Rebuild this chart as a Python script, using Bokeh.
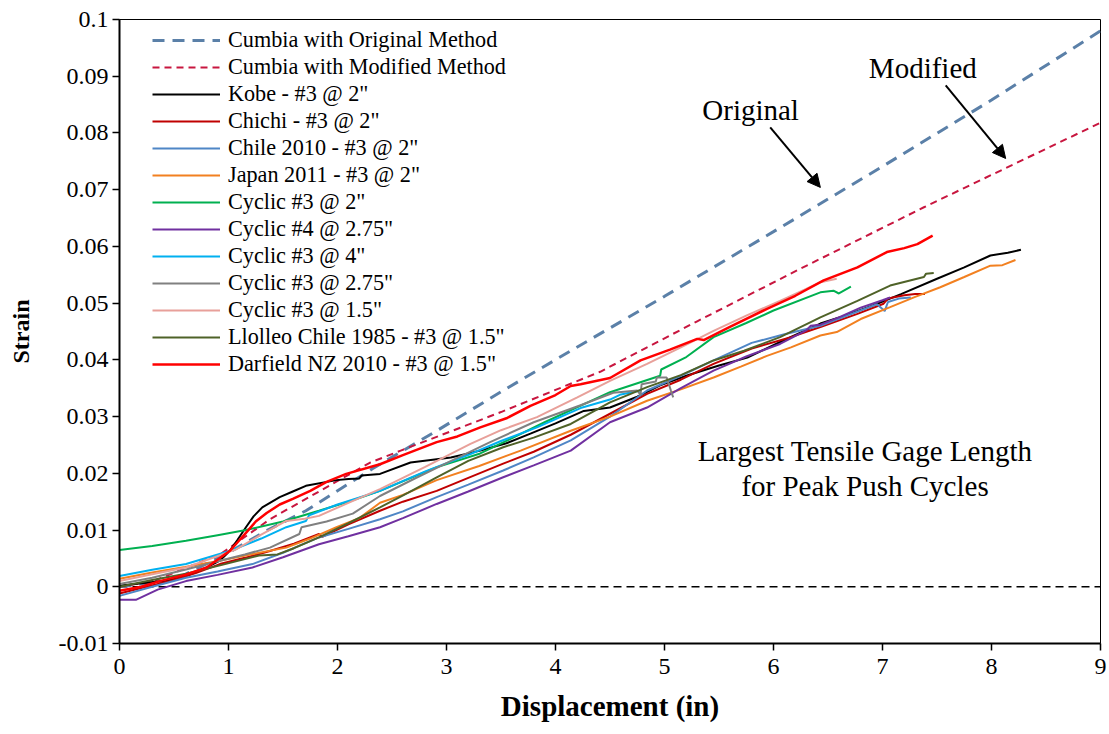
from bokeh.plotting import figure
from bokeh.models import (Range1d, FixedTicker, CustomJSTickFormatter, Legend, LegendItem,
                          Arrow, NormalHead, Label)
from bokeh.embed import file_html
from bokeh.resources import INLINE

# ---------------- data ----------------
x_ticks = [0, 1, 2, 3, 4, 5, 6, 7, 8, 9]
y_ticks = [-0.01, 0.0, 0.01, 0.02, 0.03, 0.04, 0.05, 0.06, 0.07, 0.08, 0.09, 0.1]

zero_x = [0, 9]
zero_y = [0, 0]

orig_x = [0, 0.5, 1.0, 1.35, 1.71, 2.32, 2.91, 3.52, 4.14, 5.0, 6.0, 7.0, 8.0, 9.0]
orig_y = [0, 0.0012, 0.0060, 0.0099, 0.0134, 0.0208, 0.0275, 0.0346, 0.0416, 0.0512, 0.0626, 0.0741, 0.0858, 0.0980]

mod_x = [0, 0.31, 0.93, 1.38, 2.3, 2.58, 3.5, 4.41, 5.3, 6.25, 7.38, 9.0]
mod_y = [0, 0.001, 0.0058, 0.0119, 0.0219, 0.0240, 0.0308, 0.0379, 0.0468, 0.0561, 0.0669, 0.0818]

kobe_x = [0, 0.2, 0.4, 0.6, 0.8, 0.92, 1.01, 1.08, 1.16, 1.23, 1.31, 1.47, 1.59, 1.71, 1.99, 2.1, 2.2,
          2.22, 2.39, 2.67, 3.04, 3.31, 3.55, 3.77, 4.0, 4.26, 4.5, 4.75, 4.96, 5.2, 5.5, 5.76, 6.1,
          6.43, 6.61, 6.9, 7.17, 7.5, 7.75, 7.99, 8.15, 8.27]
kobe_y = [0.0002, 0.0006, 0.001, 0.0018, 0.0034, 0.0046, 0.0063, 0.0082, 0.0105, 0.0124, 0.014, 0.0158,
          0.0168, 0.0178, 0.0188, 0.019, 0.0191, 0.0196, 0.0199, 0.0219, 0.0228, 0.024, 0.0253, 0.027,
          0.0288, 0.031, 0.0316, 0.0335, 0.0355, 0.0372, 0.039, 0.0404, 0.0435, 0.0464, 0.0475, 0.0495,
          0.0516, 0.0543, 0.0563, 0.0584, 0.0589, 0.0594]

chichi_x = [0, 0.2, 0.46, 0.7, 0.92, 1.15, 1.38, 1.6, 1.83, 1.86, 2.1, 2.39, 2.6, 2.91, 3.2, 3.52, 3.8,
            4.14, 4.5, 4.84, 5.15, 5.45, 5.8, 6.16, 6.43, 6.77, 7.01, 7.05, 7.2, 7.3, 7.39]
chichi_y = [-0.0012, -0.0002, 0.001, 0.0024, 0.004, 0.0051, 0.0063, 0.0076, 0.0093, 0.0088, 0.011,
            0.0134, 0.015, 0.0169, 0.0192, 0.0217, 0.0238, 0.0268, 0.0305, 0.034, 0.0365, 0.0393, 0.042,
            0.044, 0.0458, 0.0481, 0.0499, 0.0508, 0.0514, 0.0516, 0.0516]

chile_x = [0, 0.3, 0.61, 0.9, 1.22, 1.5, 1.83, 2.1, 2.39, 2.6, 2.91, 3.2, 3.52, 3.8, 4.14, 4.5, 4.84,
           5.15, 5.45, 5.8, 6.1, 6.43, 6.7, 6.95, 7.02, 7.05, 7.15, 7.26]
chile_y = [-0.0016, 0.0, 0.0016, 0.0027, 0.004, 0.006, 0.0087, 0.0102, 0.0119, 0.0133, 0.0158, 0.018,
           0.0205, 0.0228, 0.0258, 0.03, 0.0346, 0.0372, 0.0399, 0.043, 0.0445, 0.046, 0.048, 0.0498,
           0.0486, 0.0502, 0.0508, 0.051]

japan_x = [0, 0.3, 0.6, 0.92, 1.2, 1.53, 1.75, 1.99, 2.2, 2.39, 2.6, 2.91, 3.3, 3.68, 4.14, 4.5, 4.84,
           5.15, 5.45, 5.7, 5.94, 6.16, 6.43, 6.58, 6.8, 7.07, 7.3, 7.53, 7.75, 7.99, 8.1, 8.22]
japan_y = [0.0014, 0.0025, 0.0035, 0.0046, 0.0057, 0.0069, 0.0085, 0.0105, 0.0121, 0.0148, 0.0162,
           0.0188, 0.0213, 0.024, 0.0275, 0.0300, 0.0328, 0.0348, 0.0369, 0.0388, 0.0407, 0.0422,
           0.0443, 0.0449, 0.0472, 0.0493, 0.0511, 0.0528, 0.0546, 0.0566, 0.0567, 0.0576]

cyc3_2_x = [0, 0.3, 0.61, 0.9, 1.16, 1.5, 1.83, 2.1, 2.39, 2.9, 3.31, 3.9, 4.5, 4.96, 4.97, 5.2, 5.45,
            5.75, 6.0, 6.43, 6.55, 6.6, 6.71]
cyc3_2_y = [0.0065, 0.0072, 0.0081, 0.0091, 0.0100, 0.0115, 0.0134, 0.0150, 0.0169, 0.021, 0.0235,
            0.029, 0.0343, 0.0372, 0.0383, 0.0405, 0.0440, 0.0465, 0.0487, 0.0519, 0.0522, 0.0517, 0.0529]

cyc4_x = [0, 0.15, 0.35, 0.61, 0.9, 1.22, 1.5, 1.83, 2.1, 2.39, 2.6, 2.91, 3.2, 3.52, 3.8, 4.14, 4.5,
          4.84, 5.15, 5.45, 5.75, 6.06, 6.3, 6.34, 6.43, 6.6, 6.8, 7.0, 7.07]
cyc4_y = [-0.0023, -0.0023, -0.0005, 0.001, 0.0021, 0.0034, 0.0052, 0.0075, 0.0089, 0.0105, 0.0121,
          0.0146, 0.0168, 0.0193, 0.0214, 0.024, 0.029, 0.0316, 0.035, 0.0381, 0.0406, 0.0428, 0.0452,
          0.046, 0.0462, 0.0475, 0.0492, 0.0505, 0.051]

cyc3_4_x = [0, 0.3, 0.61, 1.01, 1.3, 1.53, 1.71, 1.74, 2.0, 2.39, 2.8, 3.22, 3.5, 3.83, 4.23, 4.5,
            4.6, 4.78]
cyc3_4_y = [0.0019, 0.003, 0.004, 0.0063, 0.0085, 0.0105, 0.0116, 0.0126, 0.0145, 0.0169, 0.0203,
            0.0234, 0.0257, 0.0281, 0.0315, 0.033, 0.0339, 0.0346]

cyc3_275_x = [0, 0.3, 0.6, 0.92, 1.15, 1.38, 1.65, 1.67, 1.9, 2.14, 2.39, 2.7, 3.0, 3.4, 3.8, 4.23,
              4.53, 4.75, 4.78, 4.79, 4.92, 4.93, 5.02, 5.06, 5.08]
cyc3_275_y = [0.0005, 0.0016, 0.003, 0.0046, 0.0057, 0.0069, 0.0093, 0.0105, 0.0115, 0.0129, 0.016,
              0.019, 0.0218, 0.0255, 0.029, 0.032, 0.0342, 0.0346, 0.0338, 0.0357, 0.0362, 0.0369,
              0.0369, 0.0345, 0.0334]

cyc3_15_x = [0, 0.3, 0.61, 1.07, 1.3, 1.53, 1.7, 1.83, 2.1, 2.39, 2.8, 3.22, 3.5, 3.83, 4.2, 4.5,
             4.84, 5.15, 5.45, 5.75, 6.06, 6.3, 6.43, 6.58]
cyc3_15_y = [0.001, 0.0022, 0.0034, 0.0066, 0.0092, 0.0116, 0.012, 0.0125, 0.0148, 0.0172, 0.0211,
             0.0252, 0.0276, 0.0299, 0.0334, 0.0363, 0.0393, 0.0422, 0.0451, 0.0478, 0.0504, 0.0525,
             0.0537, 0.0543]

llolleo_x = [0, 0.3, 0.61, 0.95, 1.28, 1.45, 1.6, 1.83, 2.1, 2.39, 2.65, 2.91, 3.2, 3.52, 3.8, 4.14,
             4.5, 4.84, 5.15, 5.45, 5.73, 6.06, 6.43, 6.77, 7.07, 7.38, 7.4, 7.47]
llolleo_y = [0, 0.0012, 0.0023, 0.0039, 0.0055, 0.0057, 0.0068, 0.0087, 0.0112, 0.014, 0.0166, 0.0193,
             0.0222, 0.0246, 0.0263, 0.0287, 0.0325, 0.0352, 0.0373, 0.0399, 0.0416, 0.044, 0.0475,
             0.0504, 0.0531, 0.0546, 0.0552, 0.0553]

darf_x = [0, 0.2, 0.37, 0.6, 0.8, 1.01, 1.1, 1.16, 1.25, 1.35, 1.47, 1.59, 1.75, 1.9, 2.08, 2.39, 2.6,
          2.91, 3.1, 3.31, 3.55, 3.77, 4.0, 4.14, 4.23, 4.5, 4.78, 5.05, 5.3, 5.36, 5.6, 5.94, 6.2, 6.46,
          6.77, 7.04, 7.2, 7.32, 7.46]
darf_y = [-0.0007, 0.0, 0.001, 0.0021, 0.0034, 0.0063, 0.0082, 0.0095, 0.0115, 0.013, 0.0145, 0.0155,
          0.0169, 0.0185, 0.0199, 0.0216, 0.0232, 0.0255, 0.0265, 0.0281, 0.0297, 0.0319, 0.0338, 0.0354,
          0.0357, 0.0368, 0.0399, 0.0418, 0.0437, 0.0435, 0.0458, 0.049, 0.0513, 0.054, 0.0563, 0.059,
          0.0597, 0.0604, 0.0619]

series = [
    ("Cumbia with Original Method", orig_x, orig_y, "#5B80A8", 3, "12 8"),
    ("Cumbia with Modified Method", mod_x, mod_y, "#C8163F", 2, "7 5"),
    ("Kobe - #3 @ 2\"", kobe_x, kobe_y, "#000000", 2, "solid"),
    ("Chichi - #3 @ 2\"", chichi_x, chichi_y, "#C00000", 2, "solid"),
    ("Chile 2010 - #3 @ 2\"", chile_x, chile_y, "#4F86C6", 2, "solid"),
    ("Japan 2011 - #3 @ 2\"", japan_x, japan_y, "#F28020", 2, "solid"),
    ("Cyclic #3 @ 2\"", cyc3_2_x, cyc3_2_y, "#00B050", 2, "solid"),
    ("Cyclic #4 @ 2.75\"", cyc4_x, cyc4_y, "#7030A0", 2, "solid"),
    ("Cyclic #3 @ 4\"", cyc3_4_x, cyc3_4_y, "#00B0F0", 2, "solid"),
    ("Cyclic #3 @ 2.75\"", cyc3_275_x, cyc3_275_y, "#808080", 2, "solid"),
    ("Cyclic #3 @ 1.5\"", cyc3_15_x, cyc3_15_y, "#E8A09A", 2, "solid"),
    ("Llolleo Chile 1985 - #3 @ 1.5\"", llolleo_x, llolleo_y, "#4F6228", 2, "solid"),
    ("Darfield NZ 2010 - #3 @ 1.5\"", darf_x, darf_y, "#FF0000", 2.5, "solid"),
]

# ---------------- figure ----------------
FONT = "Liberation Serif"
p = figure(width=1108, height=732, output_backend="svg", toolbar_location=None,
           x_range=Range1d(0, 9), y_range=Range1d(-0.01, 0.1),
           min_border_left=119, min_border_right=8, min_border_top=19, min_border_bottom=89)
p.xgrid.visible = False
p.ygrid.visible = False
p.outline_line_color = "black"
p.outline_line_width = 1
p.background_fill_color = "white"
p.border_fill_color = "white"

p.line(zero_x, zero_y, line_color="black", line_width=1.5, line_dash="8 5")

items = []
for label, xs, ys, color, lw, dash in series:
    r = p.line(xs, ys, line_color=color, line_width=lw, line_dash=dash)
    items.append(LegendItem(label=label, renderers=[r]))

legend = Legend(items=items, location=(33, 266))
legend.label_text_font = FONT
legend.label_text_font_size = "22.2px"
legend.label_text_color = "black"
legend.glyph_width = 68
legend.glyph_height = 20
legend.label_height = 20
legend.spacing = 1
legend.padding = 0
legend.margin = 0
legend.label_standoff = 8
legend.background_fill_alpha = 0
legend.border_line_color = None
p.add_layout(legend)

# axes
p.xaxis.ticker = FixedTicker(ticks=x_ticks)
p.yaxis.ticker = FixedTicker(ticks=y_ticks)
p.yaxis.formatter = CustomJSTickFormatter(code="return String(parseFloat(tick.toFixed(3)));")
for ax in (p.xaxis[0], p.yaxis[0]):
    ax.axis_line_color = "black"
    ax.axis_line_width = 2
    ax.major_tick_line_color = "black"
    ax.major_tick_line_width = 1.5
    ax.major_tick_out = 7
    ax.major_tick_in = 0
    ax.minor_tick_line_color = None
    ax.major_label_text_font = FONT
    ax.major_label_text_color = "black"
    ax.axis_label_text_font = FONT
    ax.axis_label_text_font_style = "bold"
    ax.axis_label_text_color = "black"
p.xaxis.major_label_text_font_size = "24px"
p.yaxis.major_label_text_font_size = "24px"
p.xaxis.axis_label = "Displacement (in)"
p.yaxis.axis_label = "Strain"
p.xaxis.axis_label_text_font_size = "29px"
p.yaxis.axis_label_text_font_size = "24px"
p.xaxis.major_label_standoff = 8
p.yaxis.major_label_standoff = 4
p.xaxis.axis_label_standoff = 13
p.yaxis.axis_label_standoff = 22

# annotations
ann_font_size = "29px"
orig_lbl = (5.79, 0.084)
mod_lbl = (7.37, 0.0915)
orig_arrow = (5.97, 0.0810, 6.43, 0.0704)
mod_arrow = (7.58, 0.0884, 8.13, 0.0755)
note_pos = (6.84, 0.024, 0.0178)

p.add_layout(Label(x=orig_lbl[0], y=orig_lbl[1], text="Original", text_align="center",
                   text_baseline="middle", text_font=FONT, text_font_size=ann_font_size,
                   text_color="black"))
p.add_layout(Label(x=mod_lbl[0], y=mod_lbl[1], text="Modified", text_align="center",
                   text_baseline="middle", text_font=FONT, text_font_size=ann_font_size,
                   text_color="black"))
for (x0, y0, x1, y1) in (orig_arrow, mod_arrow):
    p.add_layout(Arrow(end=NormalHead(size=13, fill_color="black", line_color="black"),
                       x_start=x0, y_start=y0, x_end=x1, y_end=y1,
                       line_color="black", line_width=2))
p.add_layout(Label(x=note_pos[0], y=note_pos[1], text="Largest Tensile Gage Length",
                   text_align="center", text_baseline="middle", text_font=FONT,
                   text_font_size=ann_font_size, text_color="black"))
p.add_layout(Label(x=note_pos[0], y=note_pos[2], text="for Peak Push Cycles",
                   text_align="center", text_baseline="middle", text_font=FONT,
                   text_font_size=ann_font_size, text_color="black"))

open("out.html", "w").write(file_html(p, INLINE))
